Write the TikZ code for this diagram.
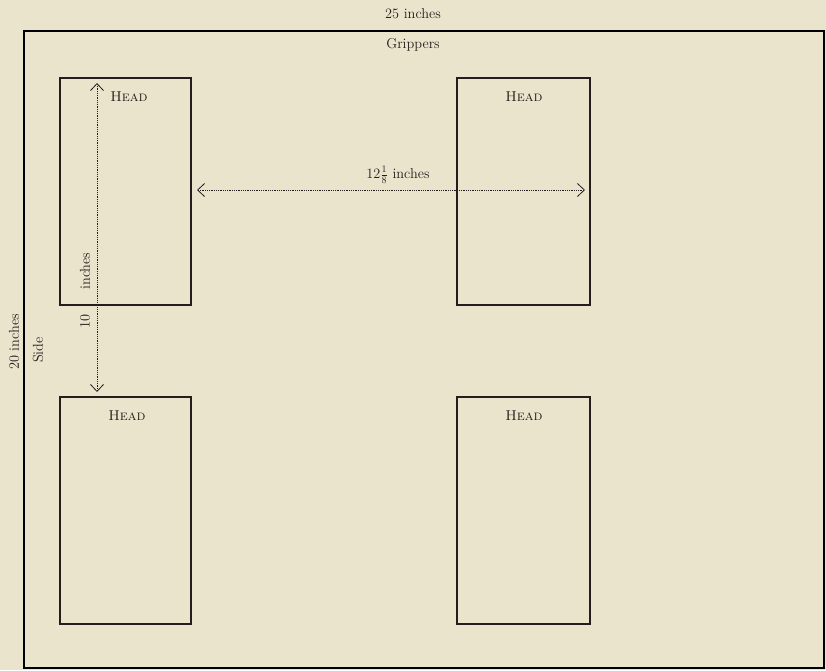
\documentclass[tikz,border=0pt]{standalone}
\usetikzlibrary{arrows.meta}
\definecolor{paper}{HTML}{EBE4CD}
\definecolor{ink}{HTML}{231D1B}
\definecolor{thin}{HTML}{4A4440}
\begin{document}
\begin{tikzpicture}[x=1pt,y=-1pt,
  txt/.style={text=ink,inner sep=0pt,font=\fontsize{14.3}{17}\selectfont},
  headlbl/.style={txt,font=\fontsize{14.3}{17}\selectfont\scshape},
  sheet/.style={draw=ink,line width=2.6pt},
  dim/.style={draw=ink,line width=0.8pt,densely dotted},
  chev/.style={{Straight Barb[length=7pt,width=13pt,line width=0.8pt]}-{Straight Barb[length=7pt,width=13pt,line width=0.8pt]}}
]
\fill[paper] (0,0) rectangle (826,670);
\useasboundingbox (0,0) rectangle (826,670);
% outer press sheet
\draw[thin,line width=1.3pt] (24,31) rectangle (824,668);
\node[txt] (w) at (413,14) {25 inches};
\node[txt] (grip) at (413,45) {Grippers};
\node[txt,rotate=90] (h) at (14,342) {20 inches};
\node[txt,rotate=90] (side) at (38,350) {Side};
% pages
\node[sheet,minimum width=131pt,minimum height=227pt,inner sep=0pt] (p1) at (125.5,191.5) {};
\node[sheet,minimum width=133pt,minimum height=227pt,inner sep=0pt] (p2) at (523.5,191.5) {};
\node[sheet,minimum width=131pt,minimum height=227pt,inner sep=0pt] (p3) at (125.5,510.5) {};
\node[sheet,minimum width=133pt,minimum height=227pt,inner sep=0pt] (p4) at (523.5,510.5) {};
\node[headlbl] (h1) at (129,97) {Head};
\node[headlbl] (h2) at (524,97) {Head};
\node[headlbl] (h3) at (127,416) {Head};
\node[headlbl] (h4) at (524,416) {Head};
% dimension lines
\coordinate (vt) at (97,83);
\coordinate (vb) at (97,392);
\draw[dim,chev] (vt) -- (vb);
\node[txt,rotate=90,fill=paper,inner sep=1pt] (ten) at (85,321) {10};
\node[txt,rotate=90] (inch) at (85,271) {inches};
\coordinate (hl) at (197,190);
\coordinate (hr) at (585,190);
\draw[dim,chev] (hl) -- (hr);
\node[txt] (tw) at (398,175) {12$\frac{1}{8}$ inches};
\end{tikzpicture}
\end{document}
